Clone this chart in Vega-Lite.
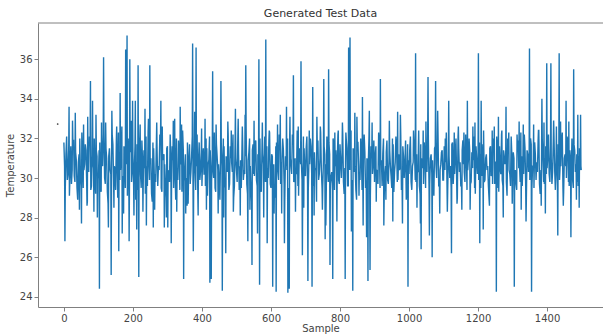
{
"$schema": "https://vega.github.io/schema/vega-lite/v6.json",
"width": 565, "height": 284,
"autosize": {"type": "none"},
"padding": {"left": 38, "top": 23, "right": 0, "bottom": 27},
"background": "white",
"title": {"text": "Generated Test Data", "font": "DejaVu Sans", "fontSize": 11, "fontWeight": "normal", "color": "#333", "offset": 4},
"datasets": {
"series": [
{"s":0,"t":31.8},{"s":4,"t":29.4},{"s":8,"t":32.1},{"s":12,"t":30.2},{"s":16,"t":29.1},{"s":20,"t":31.6},{"s":24,"t":30.4},{"s":28,"t":31.9},{"s":32,"t":29.8},{"s":36,"t":30.9},{"s":40,"t":28.9},{"s":44,"t":31.2},{"s":48,"t":30.1},{"s":52,"t":32.3},{"s":56,"t":29.5},{"s":60,"t":30.7},{"s":64,"t":31.4},{"s":68,"t":28.8},{"s":72,"t":30.3},{"s":76,"t":31.7},{"s":80,"t":29.6},{"s":84,"t":30.8},{"s":88,"t":32.0},{"s":92,"t":29.2},{"s":96,"t":31.1},
{"s":100,"t":30.0},{"s":104,"t":31.8},{"s":108,"t":29.3},{"s":112,"t":30.6},{"s":116,"t":32.4},{"s":120,"t":29.7},{"s":124,"t":31.0},{"s":128,"t":28.7},{"s":132,"t":31.5},{"s":136,"t":30.2},{"s":140,"t":32.2},{"s":144,"t":29.9},{"s":148,"t":30.5},{"s":152,"t":31.9},{"s":156,"t":29.0},{"s":160,"t":31.3},{"s":164,"t":30.4},{"s":168,"t":32.6},{"s":172,"t":29.4},{"s":176,"t":30.9},{"s":180,"t":31.6},{"s":184,"t":29.1},{"s":188,"t":30.7},{"s":192,"t":32.0},{"s":196,"t":29.8},
{"s":200,"t":31.2},{"s":204,"t":30.3},{"s":208,"t":28.9},{"s":212,"t":31.7},{"s":216,"t":30.0},{"s":220,"t":32.1},{"s":224,"t":29.5},{"s":228,"t":30.8},{"s":232,"t":31.4},{"s":236,"t":29.2},{"s":240,"t":30.6},{"s":244,"t":32.3},{"s":248,"t":29.9},{"s":252,"t":31.0},{"s":256,"t":28.8},{"s":260,"t":31.5},{"s":264,"t":30.2},{"s":268,"t":31.8},{"s":272,"t":29.6},{"s":276,"t":30.4},{"s":280,"t":32.0},{"s":284,"t":29.3},{"s":288,"t":31.1},{"s":292,"t":30.7},{"s":296,"t":29.0},
{"s":300,"t":31.6},{"s":304,"t":30.1},{"s":308,"t":32.2},{"s":312,"t":29.7},{"s":316,"t":30.9},{"s":320,"t":31.3},{"s":324,"t":28.9},{"s":328,"t":30.5},{"s":332,"t":31.9},{"s":336,"t":29.4},{"s":340,"t":30.8},{"s":344,"t":32.4},{"s":348,"t":29.8},{"s":352,"t":31.2},{"s":356,"t":30.0},{"s":360,"t":28.7},{"s":364,"t":31.7},{"s":368,"t":30.3},{"s":372,"t":32.1},{"s":376,"t":29.5},{"s":380,"t":31.0},{"s":384,"t":30.6},{"s":388,"t":29.2},{"s":392,"t":31.8},{"s":396,"t":30.4},
{"s":400,"t":29.6},{"s":404,"t":31.5},{"s":408,"t":30.2},{"s":412,"t":32.0},{"s":416,"t":29.1},{"s":420,"t":30.9},{"s":424,"t":31.4},{"s":428,"t":29.8},{"s":432,"t":30.5},{"s":436,"t":32.3},{"s":440,"t":29.3},{"s":444,"t":31.1},{"s":448,"t":30.7},{"s":452,"t":28.9},{"s":456,"t":31.8},{"s":460,"t":30.0},{"s":464,"t":31.6},{"s":468,"t":29.5},{"s":472,"t":30.8},{"s":476,"t":32.2},{"s":480,"t":29.7},{"s":484,"t":31.0},{"s":488,"t":30.3},{"s":492,"t":29.0},{"s":496,"t":31.7},
{"s":500,"t":30.4},{"s":504,"t":32.1},{"s":508,"t":29.4},{"s":512,"t":30.9},{"s":516,"t":31.5},{"s":520,"t":29.9},{"s":524,"t":30.2},{"s":528,"t":32.5},{"s":532,"t":29.2},{"s":536,"t":31.3},{"s":540,"t":30.6},{"s":544,"t":28.8},{"s":548,"t":31.7},{"s":552,"t":30.1},{"s":556,"t":31.9},{"s":560,"t":29.6},{"s":564,"t":30.8},{"s":568,"t":32.0},{"s":572,"t":29.3},{"s":576,"t":31.2},{"s":580,"t":30.5},{"s":584,"t":29.8},{"s":588,"t":31.6},{"s":592,"t":30.0},{"s":596,"t":32.3},
{"s":600,"t":29.5},{"s":604,"t":31.1},{"s":608,"t":30.7},{"s":612,"t":29.0},{"s":616,"t":31.8},{"s":620,"t":30.3},{"s":624,"t":32.2},{"s":628,"t":29.7},{"s":632,"t":30.9},{"s":636,"t":31.4},{"s":640,"t":28.9},{"s":644,"t":30.6},{"s":648,"t":32.0},{"s":652,"t":29.4},{"s":656,"t":31.0},{"s":660,"t":30.2},{"s":664,"t":31.7},{"s":668,"t":29.9},{"s":672,"t":30.4},{"s":676,"t":32.4},{"s":680,"t":29.1},{"s":684,"t":31.3},{"s":688,"t":30.8},{"s":692,"t":29.6},{"s":696,"t":31.5},
{"s":700,"t":30.1},{"s":704,"t":32.1},{"s":708,"t":29.3},{"s":712,"t":30.7},{"s":716,"t":31.6},{"s":720,"t":29.8},{"s":724,"t":31.0},{"s":728,"t":30.4},{"s":732,"t":28.8},{"s":736,"t":31.9},{"s":740,"t":30.2},{"s":744,"t":32.3},{"s":748,"t":29.5},{"s":752,"t":30.9},{"s":756,"t":31.2},{"s":760,"t":29.0},{"s":764,"t":30.6},{"s":768,"t":31.8},{"s":772,"t":29.7},{"s":776,"t":30.3},{"s":780,"t":32.0},{"s":784,"t":29.4},{"s":788,"t":31.4},{"s":792,"t":30.8},{"s":796,"t":29.9},
{"s":800,"t":31.7},{"s":804,"t":30.0},{"s":808,"t":32.2},{"s":812,"t":29.2},{"s":816,"t":30.8},{"s":820,"t":31.5},{"s":824,"t":29.6},{"s":828,"t":30.4},{"s":832,"t":32.4},{"s":836,"t":29.9},{"s":840,"t":31.1},{"s":844,"t":30.6},{"s":848,"t":28.9},{"s":852,"t":31.8},{"s":856,"t":30.2},{"s":860,"t":32.0},{"s":864,"t":29.4},{"s":868,"t":30.9},{"s":872,"t":31.3},{"s":876,"t":29.7},{"s":880,"t":30.5},{"s":884,"t":32.1},{"s":888,"t":29.1},{"s":892,"t":31.0},{"s":896,"t":30.7},
{"s":900,"t":29.8},{"s":904,"t":31.6},{"s":908,"t":30.3},{"s":912,"t":32.3},{"s":916,"t":29.5},{"s":920,"t":30.9},{"s":924,"t":31.2},{"s":928,"t":29.0},{"s":932,"t":30.6},{"s":936,"t":31.9},{"s":940,"t":29.7},{"s":944,"t":31.4},{"s":948,"t":30.1},{"s":952,"t":32.0},{"s":956,"t":29.3},{"s":960,"t":30.8},{"s":964,"t":31.5},{"s":968,"t":29.9},{"s":972,"t":30.4},{"s":976,"t":32.2},{"s":980,"t":29.6},{"s":984,"t":31.1},{"s":988,"t":30.7},{"s":992,"t":28.9},{"s":996,"t":31.7},
{"s":1000,"t":30.2},{"s":1004,"t":32.1},{"s":1008,"t":29.4},{"s":1012,"t":30.8},{"s":1016,"t":31.3},{"s":1020,"t":29.8},{"s":1024,"t":30.5},{"s":1028,"t":32.4},{"s":1032,"t":29.2},{"s":1036,"t":31.0},{"s":1040,"t":30.6},{"s":1044,"t":31.8},{"s":1048,"t":29.5},{"s":1052,"t":30.3},{"s":1056,"t":32.0},{"s":1060,"t":29.7},{"s":1064,"t":31.2},{"s":1068,"t":30.9},{"s":1072,"t":29.1},{"s":1076,"t":31.6},{"s":1080,"t":30.0},{"s":1084,"t":32.2},{"s":1088,"t":29.6},{"s":1092,"t":30.7},{"s":1096,"t":31.4},
{"s":1100,"t":29.9},{"s":1104,"t":30.4},{"s":1108,"t":32.3},{"s":1112,"t":29.3},{"s":1116,"t":31.1},{"s":1120,"t":30.6},{"s":1124,"t":31.7},{"s":1128,"t":29.7},{"s":1132,"t":30.2},{"s":1136,"t":32.0},{"s":1140,"t":29.0},{"s":1144,"t":31.5},{"s":1148,"t":30.8},{"s":1152,"t":29.6},{"s":1156,"t":31.9},{"s":1160,"t":30.3},{"s":1164,"t":32.2},{"s":1168,"t":29.4},{"s":1172,"t":30.9},{"s":1176,"t":31.3},{"s":1180,"t":29.8},{"s":1184,"t":30.5},{"s":1188,"t":32.1},{"s":1192,"t":29.2},{"s":1196,"t":31.0},
{"s":1200,"t":30.7},{"s":1204,"t":31.8},{"s":1208,"t":29.5},{"s":1212,"t":30.1},{"s":1216,"t":32.4},{"s":1220,"t":29.9},{"s":1224,"t":31.2},{"s":1228,"t":30.6},{"s":1232,"t":28.9},{"s":1236,"t":31.6},{"s":1240,"t":30.3},{"s":1244,"t":32.0},{"s":1248,"t":29.7},{"s":1252,"t":30.8},{"s":1256,"t":31.4},{"s":1260,"t":29.3},{"s":1264,"t":30.5},{"s":1268,"t":32.2},{"s":1272,"t":29.6},{"s":1276,"t":31.1},{"s":1280,"t":30.9},{"s":1284,"t":29.1},{"s":1288,"t":31.7},{"s":1292,"t":30.2},{"s":1296,"t":32.1},
{"s":1300,"t":29.8},{"s":1304,"t":31.0},{"s":1308,"t":30.4},{"s":1312,"t":29.4},{"s":1316,"t":31.9},{"s":1320,"t":30.7},{"s":1324,"t":32.3},{"s":1328,"t":29.6},{"s":1332,"t":30.2},{"s":1336,"t":31.5},{"s":1340,"t":29.0},{"s":1344,"t":31.2},{"s":1348,"t":30.8},{"s":1352,"t":32.0},{"s":1356,"t":29.5},{"s":1360,"t":30.6},{"s":1364,"t":31.8},{"s":1368,"t":29.9},{"s":1372,"t":30.3},{"s":1376,"t":32.4},{"s":1380,"t":29.2},{"s":1384,"t":31.3},{"s":1388,"t":30.9},{"s":1392,"t":29.7},{"s":1396,"t":31.6},
{"s":1400,"t":30.5},{"s":1404,"t":32.2},{"s":1408,"t":29.8},{"s":1412,"t":31.0},{"s":1416,"t":30.3},{"s":1420,"t":32.1},{"s":1424,"t":29.4},{"s":1428,"t":30.8},{"s":1432,"t":31.7},{"s":1436,"t":29.9},{"s":1440,"t":30.6},{"s":1444,"t":32.3},{"s":1448,"t":29.3},{"s":1452,"t":31.2},{"s":1456,"t":30.0},{"s":1460,"t":31.8},{"s":1464,"t":29.6},{"s":1468,"t":30.9},{"s":1472,"t":32.0},{"s":1476,"t":29.5},{"s":1480,"t":31.4},{"s":1484,"t":30.7},{"s":1488,"t":29.8},{"s":1492,"t":31.1},{"s":1496,"t":30.4},{"s":1499,"t":30.4},
{"s":2,"t":30.6},{"s":6,"t":31.2},{"s":10,"t":29.9},{"s":14,"t":31.5},{"s":18,"t":30.3},{"s":22,"t":29.7},{"s":26,"t":31.9},{"s":30,"t":30.1},{"s":34,"t":31.3},{"s":38,"t":29.5},{"s":42,"t":30.8},{"s":46,"t":32.0},{"s":50,"t":29.6},{"s":54,"t":31.0},{"s":58,"t":30.4},{"s":62,"t":31.7},{"s":66,"t":29.8},{"s":70,"t":30.9},{"s":74,"t":32.1},{"s":78,"t":29.4},{"s":82,"t":31.2},{"s":86,"t":30.5},{"s":90,"t":29.9},{"s":94,"t":31.4},{"s":98,"t":30.2},
{"s":102,"t":31.4},{"s":106,"t":29.6},{"s":110,"t":30.9},{"s":114,"t":32.2},{"s":118,"t":30.0},{"s":122,"t":31.5},{"s":126,"t":29.3},{"s":130,"t":31.1},{"s":134,"t":30.4},{"s":138,"t":29.8},{"s":142,"t":31.7},{"s":146,"t":30.6},{"s":150,"t":29.4},{"s":154,"t":31.0},{"s":158,"t":32.3},{"s":162,"t":29.9},{"s":166,"t":31.2},{"s":170,"t":30.1},{"s":174,"t":31.6},{"s":178,"t":29.5},{"s":182,"t":30.7},{"s":186,"t":32.0},{"s":190,"t":29.8},{"s":194,"t":31.3},{"s":198,"t":30.5},
{"s":202,"t":29.7},{"s":206,"t":31.6},{"s":210,"t":30.8},{"s":214,"t":29.4},{"s":218,"t":31.3},{"s":222,"t":30.2},{"s":226,"t":31.9},{"s":230,"t":29.9},{"s":234,"t":30.5},{"s":238,"t":32.1},{"s":242,"t":29.6},{"s":246,"t":31.0},{"s":250,"t":30.7},{"s":254,"t":29.2},{"s":258,"t":31.8},{"s":262,"t":30.1},{"s":266,"t":29.8},{"s":270,"t":31.4},{"s":274,"t":30.6},{"s":278,"t":32.2},{"s":282,"t":29.5},{"s":286,"t":30.9},{"s":290,"t":31.2},{"s":294,"t":29.7},{"s":298,"t":31.5},
{"s":302,"t":30.4},{"s":306,"t":29.8},{"s":310,"t":31.0},{"s":314,"t":31.6},{"s":318,"t":29.5},{"s":322,"t":30.3},{"s":326,"t":32.0},{"s":330,"t":29.9},{"s":334,"t":31.2},{"s":338,"t":30.7},{"s":342,"t":29.3},{"s":346,"t":31.4},{"s":350,"t":30.5},{"s":354,"t":29.6},{"s":358,"t":31.8},{"s":362,"t":30.9},{"s":366,"t":29.7},{"s":370,"t":31.1},{"s":374,"t":30.2},{"s":378,"t":31.5},{"s":382,"t":29.4},{"s":386,"t":32.2},{"s":390,"t":30.8},{"s":394,"t":29.9},{"s":398,"t":31.3},
{"s":402,"t":31.0},{"s":406,"t":30.2},{"s":410,"t":29.6},{"s":414,"t":31.5},{"s":418,"t":30.7},{"s":422,"t":32.1},{"s":426,"t":29.8},{"s":430,"t":31.3},{"s":434,"t":30.0},{"s":438,"t":29.5},{"s":442,"t":31.7},{"s":446,"t":30.4},{"s":450,"t":29.9},{"s":454,"t":31.2},{"s":458,"t":30.6},{"s":462,"t":32.0},{"s":466,"t":29.7},{"s":470,"t":31.1},{"s":474,"t":30.3},{"s":478,"t":29.4},{"s":482,"t":31.6},{"s":486,"t":30.8},{"s":490,"t":32.2},{"s":494,"t":29.6},{"s":498,"t":31.0},
{"s":502,"t":29.8},{"s":506,"t":31.3},{"s":510,"t":30.6},{"s":514,"t":29.5},{"s":518,"t":31.8},{"s":522,"t":30.4},{"s":526,"t":31.1},{"s":530,"t":29.7},{"s":534,"t":30.9},{"s":538,"t":32.0},{"s":542,"t":29.6},{"s":546,"t":31.4},{"s":550,"t":30.2},{"s":554,"t":31.7},{"s":558,"t":29.9},{"s":562,"t":31.2},{"s":566,"t":30.0},{"s":570,"t":29.4},{"s":574,"t":31.5},{"s":578,"t":30.7},{"s":582,"t":32.1},{"s":586,"t":29.8},{"s":590,"t":30.5},{"s":594,"t":31.9},{"s":598,"t":29.7},
{"s":602,"t":31.2},{"s":606,"t":30.0},{"s":610,"t":29.6},{"s":614,"t":31.6},{"s":618,"t":30.3},{"s":622,"t":29.9},{"s":626,"t":31.4},{"s":630,"t":30.8},{"s":634,"t":32.0},{"s":638,"t":29.7},{"s":642,"t":31.1},{"s":646,"t":30.4},{"s":650,"t":29.5},{"s":654,"t":31.7},{"s":658,"t":30.6},{"s":662,"t":32.2},{"s":666,"t":29.8},{"s":670,"t":31.0},{"s":674,"t":30.2},{"s":678,"t":29.6},{"s":682,"t":31.5},{"s":686,"t":30.7},{"s":690,"t":29.9},{"s":694,"t":32.1},{"s":698,"t":30.3},
{"s":702,"t":31.5},{"s":706,"t":29.7},{"s":710,"t":30.9},{"s":714,"t":32.0},{"s":718,"t":30.2},{"s":722,"t":29.6},{"s":726,"t":31.3},{"s":730,"t":30.5},{"s":734,"t":31.8},{"s":738,"t":29.9},{"s":742,"t":31.0},{"s":746,"t":30.4},{"s":750,"t":29.5},{"s":754,"t":31.6},{"s":758,"t":30.7},{"s":762,"t":32.1},{"s":766,"t":29.8},{"s":770,"t":31.2},{"s":774,"t":30.1},{"s":778,"t":29.4},{"s":782,"t":31.7},{"s":786,"t":30.6},{"s":790,"t":30.0},{"s":794,"t":32.2},{"s":798,"t":29.7},
{"s":802,"t":30.8},{"s":806,"t":31.4},{"s":810,"t":29.8},{"s":814,"t":30.5},{"s":818,"t":32.0},{"s":822,"t":29.6},{"s":826,"t":31.2},{"s":830,"t":30.9},{"s":834,"t":29.7},{"s":838,"t":31.5},{"s":842,"t":30.3},{"s":846,"t":29.4},{"s":850,"t":31.8},{"s":854,"t":30.6},{"s":858,"t":29.9},{"s":862,"t":31.1},{"s":866,"t":30.4},{"s":870,"t":32.2},{"s":874,"t":29.5},{"s":878,"t":31.0},{"s":882,"t":30.7},{"s":886,"t":29.8},{"s":890,"t":31.6},{"s":894,"t":30.2},{"s":898,"t":31.9},
{"s":902,"t":31.1},{"s":906,"t":30.4},{"s":910,"t":29.7},{"s":914,"t":31.5},{"s":918,"t":30.8},{"s":922,"t":29.6},{"s":926,"t":32.0},{"s":930,"t":30.2},{"s":934,"t":31.3},{"s":938,"t":29.9},{"s":942,"t":31.0},{"s":946,"t":30.6},{"s":950,"t":29.5},{"s":954,"t":31.7},{"s":958,"t":30.3},{"s":962,"t":32.1},{"s":966,"t":29.8},{"s":970,"t":31.2},{"s":974,"t":30.5},{"s":978,"t":29.4},{"s":982,"t":31.6},{"s":986,"t":30.0},{"s":990,"t":31.9},{"s":994,"t":29.7},{"s":998,"t":30.9},
{"s":1002,"t":31.4},{"s":1006,"t":29.8},{"s":1010,"t":30.6},{"s":1014,"t":32.0},{"s":1018,"t":29.9},{"s":1022,"t":31.2},{"s":1026,"t":30.3},{"s":1030,"t":29.6},{"s":1034,"t":31.7},{"s":1038,"t":30.5},{"s":1042,"t":29.7},{"s":1046,"t":31.1},{"s":1050,"t":30.8},{"s":1054,"t":32.2},{"s":1058,"t":29.5},{"s":1062,"t":31.0},{"s":1066,"t":30.2},{"s":1070,"t":29.8},{"s":1074,"t":31.5},{"s":1078,"t":30.7},{"s":1082,"t":31.9},{"s":1086,"t":29.6},{"s":1090,"t":30.4},{"s":1094,"t":31.3},{"s":1098,"t":29.9},
{"s":1102,"t":31.6},{"s":1106,"t":30.8},{"s":1110,"t":29.7},{"s":1114,"t":31.2},{"s":1118,"t":30.0},{"s":1122,"t":29.5},{"s":1126,"t":31.8},{"s":1130,"t":30.5},{"s":1134,"t":31.0},{"s":1138,"t":29.9},{"s":1142,"t":32.1},{"s":1146,"t":30.3},{"s":1150,"t":29.6},{"s":1154,"t":31.4},{"s":1158,"t":30.7},{"s":1162,"t":29.8},{"s":1166,"t":31.1},{"s":1170,"t":30.4},{"s":1174,"t":32.0},{"s":1178,"t":29.7},{"s":1182,"t":31.3},{"s":1186,"t":30.9},{"s":1190,"t":29.5},{"s":1194,"t":31.6},{"s":1198,"t":30.2},
{"s":1202,"t":29.9},{"s":1206,"t":31.2},{"s":1210,"t":30.6},{"s":1214,"t":31.7},{"s":1218,"t":29.8},{"s":1222,"t":31.0},{"s":1226,"t":30.4},{"s":1230,"t":29.6},{"s":1234,"t":31.5},{"s":1238,"t":30.1},{"s":1242,"t":29.7},{"s":1246,"t":31.3},{"s":1250,"t":30.8},{"s":1254,"t":32.1},{"s":1258,"t":29.5},{"s":1262,"t":31.6},{"s":1266,"t":30.2},{"s":1270,"t":29.9},{"s":1274,"t":31.4},{"s":1278,"t":30.7},{"s":1282,"t":29.8},{"s":1286,"t":32.0},{"s":1290,"t":30.4},{"s":1294,"t":29.6},{"s":1298,"t":31.1},
{"s":1302,"t":31.3},{"s":1306,"t":30.0},{"s":1310,"t":29.7},{"s":1314,"t":31.6},{"s":1318,"t":30.5},{"s":1322,"t":29.8},{"s":1326,"t":31.1},{"s":1330,"t":30.9},{"s":1334,"t":32.2},{"s":1338,"t":29.6},{"s":1342,"t":31.4},{"s":1346,"t":30.3},{"s":1350,"t":29.9},{"s":1354,"t":31.7},{"s":1358,"t":30.6},{"s":1362,"t":29.5},{"s":1366,"t":31.2},{"s":1370,"t":30.8},{"s":1374,"t":31.9},{"s":1378,"t":29.7},{"s":1382,"t":30.4},{"s":1386,"t":32.0},{"s":1390,"t":29.8},{"s":1394,"t":31.0},{"s":1398,"t":30.2},
{"s":1402,"t":31.1},{"s":1406,"t":30.2},{"s":1410,"t":31.6},{"s":1414,"t":29.7},{"s":1418,"t":31.9},{"s":1422,"t":30.4},{"s":1426,"t":30.9},{"s":1430,"t":29.6},{"s":1434,"t":31.3},{"s":1438,"t":30.7},{"s":1442,"t":31.8},{"s":1446,"t":29.5},{"s":1450,"t":31.0},{"s":1454,"t":30.6},{"s":1458,"t":32.1},{"s":1462,"t":29.8},{"s":1466,"t":31.4},{"s":1470,"t":30.1},{"s":1474,"t":29.9},{"s":1478,"t":31.7},{"s":1482,"t":30.3},{"s":1486,"t":31.2},{"s":1490,"t":29.6},{"s":1494,"t":31.5},{"s":1498,"t":30.6},
{"s":3,"t":26.8},{"s":15,"t":33.6},{"s":33,"t":33.3},{"s":51,"t":27.7},{"s":67,"t":28.6},{"s":69,"t":33.1},{"s":77,"t":34.9},{"s":83,"t":33.9},{"s":93,"t":33.2},{"s":103,"t":24.4},{"s":115,"t":36.1},{"s":129,"t":27.5},{"s":137,"t":25.1},{"s":139,"t":33.4},{"s":159,"t":26.3},{"s":163,"t":34.3},{"s":169,"t":27.2},{"s":179,"t":36.5},{"s":183,"t":37.2},{"s":189,"t":26.8},{"s":191,"t":36.0},{"s":199,"t":33.9},{"s":207,"t":33.9},{"s":211,"t":27.4},{"s":215,"t":35.7},{"s":217,"t":25.0},{"s":235,"t":33.5},{"s":239,"t":27.6},{"s":249,"t":35.7},{"s":259,"t":27.5},{"s":281,"t":33.9},{"s":291,"t":27.5},{"s":301,"t":27.5},{"s":311,"t":26.7},{"s":321,"t":33.0},{"s":337,"t":33.6},{"s":347,"t":24.9},{"s":353,"t":28.2},{"s":373,"t":36.8},{"s":375,"t":26.3},{"s":383,"t":36.6},{"s":409,"t":33.0},{"s":423,"t":24.7},{"s":427,"t":24.9},{"s":431,"t":35.4},{"s":455,"t":34.9},{"s":459,"t":24.3},{"s":469,"t":26.2},{"s":497,"t":33.5},{"s":527,"t":35.7},{"s":533,"t":26.8},{"s":545,"t":25.6},{"s":561,"t":27.2},{"s":565,"t":36.0},{"s":567,"t":24.6},{"s":585,"t":37.0},{"s":589,"t":26.7},{"s":605,"t":24.5},{"s":615,"t":24.25},{"s":627,"t":33.2},{"s":639,"t":26.7},{"s":645,"t":33.6},{"s":649,"t":24.2},{"s":653,"t":24.4},{"s":665,"t":35.2},{"s":687,"t":35.9},{"s":691,"t":26.1},{"s":707,"t":24.8},{"s":719,"t":24.5},{"s":721,"t":34.6},{"s":753,"t":35.0},{"s":757,"t":26.9},{"s":767,"t":35.5},{"s":771,"t":25.6},{"s":779,"t":24.9},{"s":815,"t":24.9},{"s":825,"t":36.6},{"s":829,"t":37.1},{"s":833,"t":27.3},{"s":837,"t":24.3},{"s":843,"t":33.3},{"s":865,"t":34.1},{"s":877,"t":27.0},{"s":881,"t":24.8},{"s":887,"t":25.35},{"s":917,"t":35.0},{"s":927,"t":27.6},{"s":967,"t":33.35},{"s":997,"t":24.5},{"s":1019,"t":36.3},{"s":1033,"t":27.7},{"s":1035,"t":26.4},{"s":1055,"t":35.1},{"s":1059,"t":27.1},{"s":1067,"t":26.0},{"s":1077,"t":34.9},{"s":1115,"t":33.9},{"s":1123,"t":26.2},{"s":1139,"t":28.7},{"s":1169,"t":33.9},{"s":1201,"t":36.3},{"s":1205,"t":26.7},{"s":1209,"t":33.9},{"s":1215,"t":27.4},{"s":1253,"t":24.25},{"s":1281,"t":33.6},{"s":1305,"t":24.5},{"s":1339,"t":27.8},{"s":1349,"t":36.55},{"s":1355,"t":24.25},{"s":1385,"t":34.0},{"s":1399,"t":35.8},{"s":1411,"t":35.8},{"s":1431,"t":27.1},{"s":1435,"t":36.3},{"s":1455,"t":33.9},{"s":1469,"t":27.0},{"s":1477,"t":35.5},{"s":1489,"t":33.2},{"s":1497,"t":33.2},
{"s":25,"t":32.9},{"s":45,"t":28.4},{"s":57,"t":32.7},{"s":87,"t":28.3},{"s":97,"t":28.0},{"s":109,"t":32.8},{"s":121,"t":32.8},{"s":145,"t":28.5},{"s":153,"t":32.6},{"s":173,"t":28.2},{"s":195,"t":32.9},{"s":203,"t":28.1},{"s":221,"t":32.7},{"s":229,"t":28.3},{"s":245,"t":33.0},{"s":263,"t":28.4},{"s":269,"t":32.8},{"s":285,"t":32.6},{"s":297,"t":28.0},{"s":317,"t":32.9},{"s":327,"t":28.3},{"s":341,"t":32.7},{"s":357,"t":28.6},
{"s":379,"t":33.35},{"s":389,"t":28.1},{"s":399,"t":32.5},{"s":413,"t":28.4},{"s":441,"t":32.7},{"s":447,"t":28.2},{"s":463,"t":28.0},{"s":475,"t":32.85},{"s":485,"t":32.4},{"s":491,"t":28.3},{"s":505,"t":33.0},{"s":511,"t":28.1},{"s":517,"t":32.6},{"s":525,"t":33.2},{"s":539,"t":28.4},{"s":551,"t":32.9},{"s":575,"t":32.8},{"s":579,"t":28.0},{"s":595,"t":32.4},{"s":609,"t":28.2},{"s":619,"t":32.7},{"s":631,"t":28.2},{"s":655,"t":33.1},{"s":671,"t":28.3},{"s":679,"t":32.6},{"s":695,"t":28.5},{"s":711,"t":32.4},{"s":725,"t":28.1},{"s":733,"t":33.1},{"s":743,"t":32.6},{"s":749,"t":28.4},{"s":759,"t":27.6},
{"s":785,"t":32.3},{"s":791,"t":27.8},{"s":795,"t":32.4},{"s":807,"t":32.8},{"s":817,"t":32.3},{"s":849,"t":33.1},{"s":855,"t":29.1},{"s":867,"t":27.6},{"s":885,"t":33.4},{"s":893,"t":32.8},{"s":905,"t":28.8},{"s":933,"t":28.9},{"s":943,"t":32.9},{"s":953,"t":27.8},{"s":975,"t":33.2},{"s":981,"t":27.7},{"s":1013,"t":32.4},{"s":1023,"t":28.5},{"s":1041,"t":32.4},{"s":1049,"t":32.85},{"s":1083,"t":33.4},{"s":1089,"t":28.2},{"s":1105,"t":32.0},{"s":1111,"t":28.3},{"s":1131,"t":32.3},{"s":1143,"t":32.6},{"s":1153,"t":28.4},{"s":1159,"t":32.3},
{"s":1177,"t":28.4},{"s":1185,"t":32.6},{"s":1191,"t":32.8},{"s":1233,"t":28.6},{"s":1241,"t":32.4},{"s":1247,"t":32.6},{"s":1259,"t":33.1},{"s":1269,"t":32.4},{"s":1273,"t":28.0},{"s":1289,"t":32.3},{"s":1299,"t":28.7},{"s":1313,"t":32.2},{"s":1319,"t":32.85},{"s":1325,"t":28.4},{"s":1331,"t":32.7},{"s":1361,"t":32.7},{"s":1375,"t":32.4},{"s":1383,"t":28.6},{"s":1391,"t":32.8},{"s":1395,"t":28.2},{"s":1419,"t":32.9},{"s":1427,"t":32.6},{"s":1439,"t":32.85},{"s":1447,"t":28.6},{"s":1463,"t":32.85},{"s":1485,"t":28.9},{"s":1493,"t":28.5}
],
"dot": [{"s": -18, "t": 32.73}],
"frame": [{"t": 37.835}]
},
"layer": [
{"data": {"name": "series"},
 "mark": {"type": "line", "color": "#1f77b4", "strokeWidth": 1.4, "clip": true},
 "encoding": {
  "x": {"field": "s", "type": "quantitative", "scale": {"domain": [-75, 1562], "nice": false, "zero": false},
        "axis": {"title": "Sample", "values": [0,200,400,600,800,1000,1200,1400], "format": "d", "grid": false}},
  "y": {"field": "t", "type": "quantitative", "scale": {"domain": [23.48, 37.835], "nice": false, "zero": false},
        "axis": {"title": "Temperature", "values": [24,26,28,30,32,34,36], "grid": false}}
 }},
{"data": {"name": "dot"},
 "mark": {"type": "point", "filled": true, "size": 3, "color": "#333", "opacity": 1},
 "encoding": {
  "x": {"field": "s", "type": "quantitative"},
  "y": {"field": "t", "type": "quantitative"}
 }},
{"data": {"name": "frame"},
 "mark": {"type": "rule", "color": "#808080", "strokeWidth": 1},
 "encoding": {"y": {"field": "t", "type": "quantitative"}}}
],
"config": {
 "view": {"stroke": null},
 "axis": {"domainColor": "#808080", "domainWidth": 1, "tickColor": "#808080", "tickSize": 4, "labelFont": "DejaVu Sans", "labelFontSize": 10, "labelColor": "#444", "labelPadding": 2, "titleFont": "DejaVu Sans", "titleFontSize": 10, "titleFontWeight": "normal", "titleColor": "#444"},
 "axisX": {"titlePadding": 0},
 "axisY": {"titlePadding": 4}
}
}
